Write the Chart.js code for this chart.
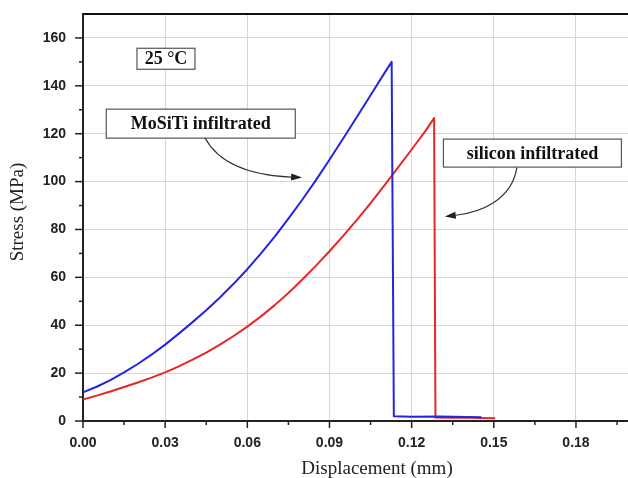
<!DOCTYPE html>
<html>
<head>
<meta charset="utf-8">
<script src="https://cdn.jsdelivr.net/npm/chart.js@4.4.1/dist/chart.umd.min.js"></script>
<style>
html,body{margin:0;padding:0;background:#fff;}
#wrap{width:628px;height:478px;position:relative;}
</style>
</head>
<body>
<div id="wrap"><canvas id="c" width="628" height="478"></canvas></div>
<script>
// ---- data ----
const moSiTiX = [0, 0.005, 0.01, 0.015, 0.02, 0.025, 0.03, 0.035, 0.04, 0.045, 0.05, 0.055, 0.06, 0.065, 0.07, 0.075, 0.08, 0.085, 0.09, 0.095, 0.1, 0.105, 0.11, 0.1127, 0.1135, 0.12, 0.13, 0.14, 0.1455];
const moSiTiY = [12, 14.3, 17.1, 20.3, 23.8, 27.7, 31.9, 36.5, 41.3, 46.3, 51.6, 57.3, 63.4, 70, 77, 84.5, 92.3, 100.5, 109.1, 118, 127, 136.1, 145.2, 150, 2, 1.8, 1.9, 1.7, 1.6];
const siliconX = [0, 0.005, 0.01, 0.015, 0.02, 0.025, 0.03, 0.035, 0.04, 0.045, 0.05, 0.055, 0.06, 0.065, 0.07, 0.075, 0.08, 0.085, 0.09, 0.095, 0.1, 0.105, 0.11, 0.115, 0.12, 0.125, 0.1282, 0.1287, 0.135, 0.14, 0.145, 0.1505];
const siliconY = [9, 10.6, 12.3, 14.2, 16.1, 18.1, 20.3, 22.8, 25.6, 28.6, 31.9, 35.5, 39.4, 43.7, 48.4, 53.5, 59, 64.8, 70.9, 77.3, 84, 91, 98.3, 105.8, 113.4, 121.1, 126.5, 1.5, 1.4, 1.5, 1.3, 1.2];
const xTickValues = [0, 0.03, 0.06, 0.09, 0.12, 0.15, 0.18];
const xTickLabels = ['0.00', '0.03', '0.06', '0.09', '0.12', '0.15', '0.18'];
const yTickValues = [0, 20, 40, 60, 80, 100, 120, 140, 160];
const yTickLabels = ['0', '20', '40', '60', '80', '100', '120', '140', '160'];
const seriesNames = ['MoSiTi infiltrated', 'silicon infiltrated'];
const xTitle = 'Displacement (mm)';
const yTitle = 'Stress (MPa)';
const tempLabel = '25 °C';

// ---- chart ----
const X_MIN = 0, X_MAX = 0.199, Y_MIN = 0, Y_MAX = 170;
const xMinorStep = 0.015, yMinorStep = 10;

function near(a, b) { return Math.abs(a - b) < 1e-9; }
function isXMajor(v) { return xTickValues.some(t => near(t, v)); }
function isYMajor(v) { return yTickValues.some(t => near(t, v)); }

const xAllTicks = [];
for (let i = 0; i * xMinorStep <= X_MAX + 1e-9; i++) xAllTicks.push(+(i * xMinorStep).toFixed(4));
const yAllTicks = [];
for (let i = 0; i * yMinorStep <= 160 + 1e-9; i++) yAllTicks.push(i * yMinorStep);

const AXIS_COLOR = '#222';
const GRID_COLOR = '#d6d6d6';

const annotationPlugin = {
  id: 'annot',
  afterDraw(chart) {
    const ctx = chart.ctx;
    const xs = chart.scales.x, ys = chart.scales.y;
    const ca = chart.chartArea;
    const P = (x, y) => [xs.getPixelForValue(x), ys.getPixelForValue(y)];
    ctx.save();
    // top frame line
    ctx.strokeStyle = '#111';
    ctx.lineWidth = 2;
    ctx.beginPath();
    ctx.moveTo(ca.left, ca.top);
    ctx.lineTo(ca.right, ca.top);
    ctx.stroke();

    // ticks (major longer, minor shorter)
    ctx.strokeStyle = AXIS_COLOR;
    ctx.lineWidth = 1.5;
    xAllTicks.forEach(v => {
      const px = xs.getPixelForValue(v);
      const len = isXMajor(v) ? 7 : 4;
      ctx.beginPath();
      ctx.moveTo(px, ca.bottom);
      ctx.lineTo(px, ca.bottom + len);
      ctx.stroke();
    });
    yAllTicks.forEach(v => {
      const py = ys.getPixelForValue(v);
      const len = isYMajor(v) ? 8 : 4;
      ctx.beginPath();
      ctx.moveTo(ca.left, py);
      ctx.lineTo(ca.left - len, py);
      ctx.stroke();
    });

    // axis titles
    ctx.fillStyle = '#222';
    ctx.font = '19px "Liberation Serif"';
    ctx.textAlign = 'center';
    ctx.textBaseline = 'middle';
    ctx.fillText(xTitle, 377, 469);
    ctx.save();
    ctx.translate(18, 212);
    ctx.rotate(-Math.PI / 2);
    ctx.fillText(yTitle, 0, 0);
    ctx.restore();

    // boxes
    function box(cx, cy, w, h, text) {
      const [px, py] = P(cx, cy);
      ctx.fillStyle = '#fff';
      ctx.fillRect(px - w / 2, py - h / 2, w, h);
      ctx.strokeStyle = '#555';
      ctx.lineWidth = 1.2;
      ctx.strokeRect(px - w / 2, py - h / 2, w, h);
      ctx.fillStyle = '#111';
      ctx.font = 'bold 18px "Liberation Serif"';
      ctx.textAlign = 'center';
      ctx.textBaseline = 'middle';
      ctx.fillText(text, px, py + 1);
    }
    box(0.0303, 151.3, 58, 21, tempLabel);
    box(0.0430, 124.2, 189, 29, seriesNames[0]);
    box(0.1641, 111.9, 178, 28, seriesNames[1]);

    // curved arrows
    function arrow(p0, p1, p2, p3) {
      const a = P(...p0), b = P(...p1), c = P(...p2), d = P(...p3);
      const ang = Math.atan2(d[1] - c[1], d[0] - c[0]);
      const L = 11, W = 3.5;
      const bx = d[0] - L * Math.cos(ang), by = d[1] - L * Math.sin(ang);
      ctx.strokeStyle = '#333';
      ctx.lineWidth = 1.2;
      ctx.beginPath();
      ctx.moveTo(a[0], a[1]);
      ctx.bezierCurveTo(b[0], b[1], c[0], c[1], bx, by);
      ctx.stroke();
      ctx.fillStyle = '#222';
      ctx.beginPath();
      ctx.moveTo(d[0], d[1]);
      ctx.lineTo(bx - W * Math.sin(ang), by + W * Math.cos(ang));
      ctx.lineTo(bx + W * Math.sin(ang), by - W * Math.cos(ang));
      ctx.closePath();
      ctx.fill();
    }
    arrow([0.0445, 118.3], [0.0500, 106.7], [0.0628, 102.5], [0.0800, 101.7]);
    arrow([0.1584, 105.8], [0.1566, 92.1], [0.1449, 87.1], [0.1321, 85.4]);
    ctx.restore();
  }
};

function pts(xa, ya) { return xa.map((x, i) => ({ x: x, y: ya[i] })); }

new Chart(document.getElementById('c'), {
  type: 'line',
  data: {
    datasets: [
      { label: seriesNames[0], data: pts(moSiTiX, moSiTiY), borderColor: '#2424e2', borderWidth: 2, pointRadius: 0, fill: false, tension: 0, borderJoinStyle: 'round' },
      { label: seriesNames[1], data: pts(siliconX, siliconY), borderColor: '#e82626', borderWidth: 2, pointRadius: 0, fill: false, tension: 0, borderJoinStyle: 'round' }
    ]
  },
  options: {
    responsive: false,
    animation: false,
    events: [],
    layout: { padding: { top: 14, right: 0, left: 0, bottom: 0 } },
    plugins: { legend: { display: false }, tooltip: { enabled: false } },
    scales: {
      x: {
        type: 'linear', min: X_MIN, max: X_MAX,
        afterBuildTicks: s => { s.ticks = xAllTicks.concat([X_MAX]).map(v => ({ value: v })); },
        afterFit: s => { s.height = 57; s.paddingRight = 0; },
        grid: { drawTicks: false, color: c => (c.tick && isXMajor(c.tick.value) && c.tick.value > 0) ? GRID_COLOR : 'rgba(0,0,0,0)', lineWidth: 1 },
        border: { display: true, color: AXIS_COLOR, width: 2 },
        ticks: {
          autoSkip: false, maxRotation: 0, padding: 14,
          color: '#222', font: { family: '"Liberation Sans"', size: 14, weight: 'bold' },
          callback: v => { const i = xTickValues.findIndex(t => near(t, v)); return i >= 0 ? xTickLabels[i] : ''; }
        }
      },
      y: {
        type: 'linear', min: Y_MIN, max: Y_MAX,
        afterBuildTicks: s => { s.ticks = yAllTicks.concat([Y_MAX]).map(v => ({ value: v })); },
        afterFit: s => { s.width = 83; s.paddingTop = 0; },
        grid: { drawTicks: false, color: c => (c.tick && isYMajor(c.tick.value) && c.tick.value > 0) ? GRID_COLOR : 'rgba(0,0,0,0)', lineWidth: 1 },
        border: { display: true, color: AXIS_COLOR, width: 2 },
        ticks: {
          autoSkip: false, padding: 17,
          color: '#222', font: { family: '"Liberation Sans"', size: 14, weight: 'bold' },
          callback: v => { const i = yTickValues.findIndex(t => near(t, v)); return i >= 0 ? yTickLabels[i] : ''; }
        }
      }
    }
  },
  plugins: [annotationPlugin]
});
</script>
</body>
</html>
